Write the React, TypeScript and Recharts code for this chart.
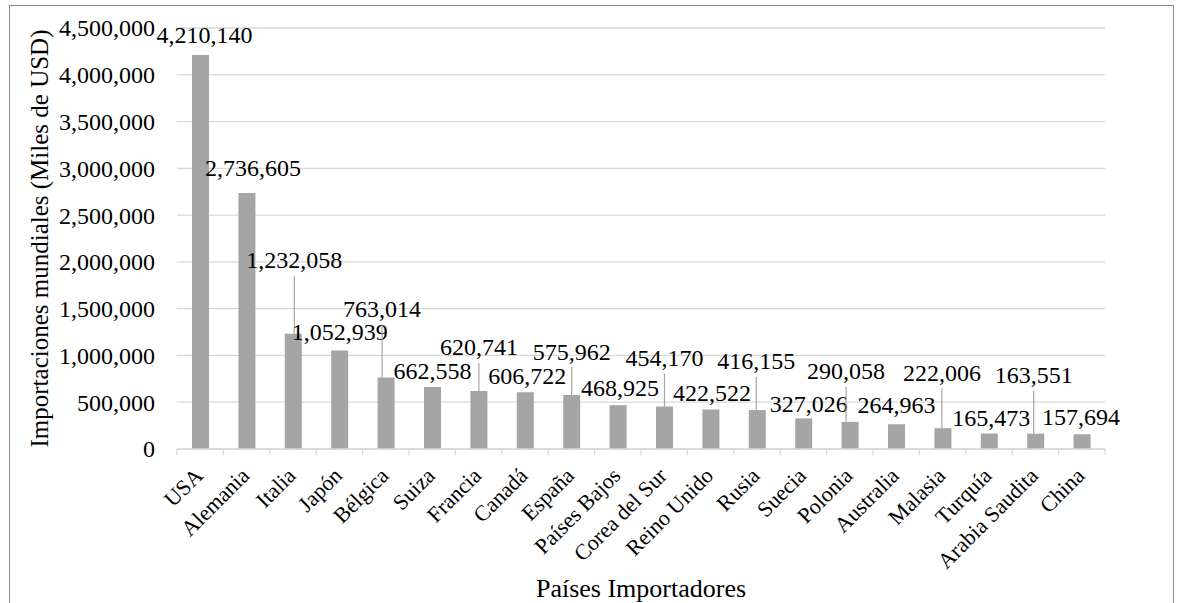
import { BarChart, Bar, XAxis, YAxis, CartesianGrid, LabelList, Label } from 'recharts';

const countries = [
    'USA', 'Alemania', 'Italia', 'Japón', 'Bélgica', 'Suiza', 'Francia', 'Canadá', 'España', 'Países Bajos',
    'Corea del Sur', 'Reino Unido', 'Rusia', 'Suecia', 'Polonia', 'Australia', 'Malasia', 'Turquía', 'Arabia Saudita', 'China',
];

const imports = [
    4210140, 2736605, 1232058, 1052939, 763014, 662558, 620741, 606722, 575962, 468925,
    454170, 422522, 416155, 327026, 290058, 264963, 222006, 165473, 163551, 157694,
];

const yTicks = [0, 500000, 1000000, 1500000, 2000000, 2500000, 3000000, 3500000, 4000000, 4500000];

// label placement (px above bar top, horizontal nudge) - leader line drawn when lifted high
const LABEL_LIFT = [21, 25, 74, 19, 69, 16, 44, 17, 44, 18, 49, 17, 49, 15, 51, 20, 56, 16, 59, 18];
const LABEL_DX = [4, 6, 1, 0, -4, 0, 0, 2, 0, 2, 0, 1, -1, 5, -4, 0, -1, 2, -2, -1];

const FONT = '"Liberation Serif", "Times New Roman", serif';

const chartData = countries.map((name, i) => ({ name, value: imports[i] }));

const fmt = (v: number) => v.toLocaleString('en-US');

function YTick({ x, y, payload }: any) {
    return (
        <text x={x} y={y} dy="0.35em" textAnchor="end" fontSize={24} fontFamily={FONT} fill="#000">
            {fmt(payload.value)}
        </text>
    );
}

function XTick({ x, y, payload, index }: any) {
    const off = payload.offset || 23.2;
    const last = index === countries.length - 1;
    return (
        <g>
            <line x1={x - off} x2={x - off} y1={y} y2={y + 6} stroke="#d9d9d9" strokeWidth={1.3} />
            {last && <line x1={x + off} x2={x + off} y1={y} y2={y + 6} stroke="#d9d9d9" strokeWidth={1.3} />}
            <g transform={`translate(${x + 4},${y + 28})`}>
                <text x={0} y={0} textAnchor="end" transform="rotate(-45)" fontSize={22} fontFamily={FONT} fill="#000">
                    {payload.value}
                </text>
            </g>
        </g>
    );
}

function BarLabel({ x, y, width, value, index }: any) {
    const lift = LABEL_LIFT[index];
    const cx = x + width / 2 + LABEL_DX[index];
    const cy = y - lift;
    const leader = lift > 35;
    const lx = Math.min(Math.max(cx, x + 2), x + width - 2);
    return (
        <g>
            {leader && <line x1={lx} x2={lx} y1={cy + 16} y2={y} stroke="#a6a6a6" strokeWidth={1.2} />}
            <text x={cx} y={cy} dy="0.35em" textAnchor="middle" fontSize={24} fontFamily={FONT} fill="#000">
                {fmt(value)}
            </text>
        </g>
    );
}

export default function App() {
    return (
        <div style={{ position: 'absolute', left: 0, top: 0, width: 1177, height: 603, background: '#fff', overflow: 'hidden' }}>
            <BarChart
                width={1177}
                height={603}
                data={chartData}
                margin={{ top: 28, right: 72, left: 117, bottom: 54 }}
            >
                <CartesianGrid vertical={false} stroke="#d9d9d9" strokeWidth={1.3} />
                <XAxis
                    dataKey="name"
                    interval={0}
                    height={100}
                    tickSize={0}
                    tickMargin={0}
                    axisLine={{ stroke: '#d9d9d9', strokeWidth: 1.3 }}
                    tick={<XTick />}
                >
                    <Label
                        content={({ viewBox }: any) => (
                            <text
                                x={viewBox.x + viewBox.width / 2}
                                y={viewBox.y + 148}
                                textAnchor="middle"
                                fontSize={26}
                                fontFamily={FONT}
                                fill="#000"
                            >
                                Países Importadores
                            </text>
                        )}
                    />
                </XAxis>
                <YAxis
                    width={60}
                    domain={[0, 4500000]}
                    ticks={yTicks}
                    interval={0}
                    tickSize={0}
                    tickMargin={22}
                    axisLine={false}
                    tickLine={false}
                    tick={<YTick />}
                >
                    <Label
                        content={({ viewBox }: any) => {
                            const cx = viewBox.x - 78;
                            const cy = viewBox.y + viewBox.height / 2;
                            return (
                                <text
                                    x={cx}
                                    y={cy}
                                    dy="0.35em"
                                    textAnchor="middle"
                                    transform={`rotate(-90, ${cx}, ${cy})`}
                                    fontSize={25}
                                    fontFamily={FONT}
                                    fill="#000"
                                >
                                    Importaciones mundiales (Miles de USD)
                                </text>
                            );
                        }}
                    />
                </YAxis>
                <Bar dataKey="value" fill="#a5a5a5" barSize={17} isAnimationActive={false}>
                    <LabelList dataKey="value" content={<BarLabel />} />
                </Bar>
            </BarChart>
            <div
                style={{
                    position: 'absolute',
                    left: 9,
                    top: 5,
                    width: 1165,
                    height: 700,
                    boxSizing: 'border-box',
                    border: '1px solid #8c8c8c',
                    pointerEvents: 'none',
                }}
            />
        </div>
    );
}
